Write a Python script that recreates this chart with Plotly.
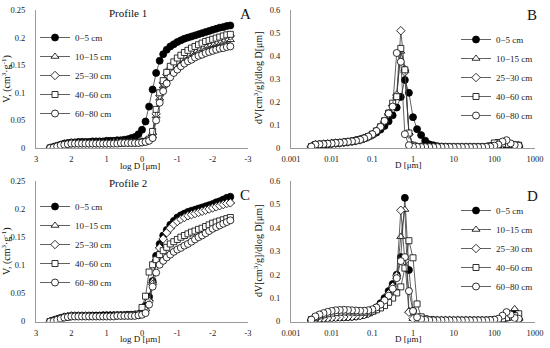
import plotly.graph_objects as go

# ---------------- data ----------------
log_d = [2.6, 2.5, 2.4, 2.3, 2.2, 2.1, 2.0, 1.9, 1.8, 1.7,
         1.6, 1.5, 1.4, 1.3, 1.2, 1.1, 1.0, 0.9, 0.8, 0.7,
         0.6, 0.5, 0.4, 0.3, 0.2, 0.1, 0.0, -0.1, -0.2, -0.3,
         -0.4, -0.5, -0.6, -0.7, -0.8, -0.9, -1.0, -1.1, -1.2, -1.3,
         -1.4, -1.5, -1.6, -1.7, -1.8, -1.9, -2.0, -2.1, -2.2, -2.3,
         -2.4, -2.5]

series_names = ["0\u22125 cm", "10\u221215 cm", "25\u221230 cm", "40\u221260 cm", "60\u221280 cm"]

# Profile 1 cumulative volume (panel A)
cum_p1_0_5 = [0.000, 0.002, 0.004, 0.006, 0.008, 0.009, 0.010, 0.010, 0.011, 0.011,
              0.011, 0.011, 0.012, 0.012, 0.012, 0.012, 0.013, 0.013, 0.013, 0.014,
              0.014, 0.015, 0.016, 0.018, 0.020, 0.025, 0.033, 0.048, 0.075, 0.106,
              0.136, 0.158, 0.170, 0.178, 0.184, 0.188, 0.192, 0.195, 0.198, 0.200,
              0.202, 0.204, 0.206, 0.208, 0.210, 0.212, 0.214, 0.216, 0.218, 0.219,
              0.221, 0.222]
cum_p1_10_15 = [0.000, 0.001, 0.003, 0.005, 0.007, 0.008, 0.008, 0.009, 0.009, 0.009,
                0.009, 0.009, 0.009, 0.009, 0.009, 0.009, 0.009, 0.009, 0.009, 0.009,
                0.010, 0.010, 0.010, 0.010, 0.010, 0.010, 0.011, 0.012, 0.015, 0.022,
                0.058, 0.090, 0.112, 0.127, 0.138, 0.146, 0.153, 0.158, 0.163, 0.167,
                0.171, 0.174, 0.177, 0.180, 0.183, 0.185, 0.187, 0.189, 0.191, 0.193,
                0.195, 0.196]
cum_p1_25_30 = [0.000, 0.001, 0.003, 0.005, 0.007, 0.008, 0.009, 0.009, 0.009, 0.009,
                0.009, 0.009, 0.009, 0.009, 0.009, 0.009, 0.009, 0.009, 0.010, 0.010,
                0.010, 0.010, 0.010, 0.010, 0.010, 0.010, 0.011, 0.012, 0.016, 0.025,
                0.062, 0.095, 0.118, 0.133, 0.144, 0.152, 0.159, 0.164, 0.169, 0.173,
                0.177, 0.180, 0.183, 0.186, 0.189, 0.191, 0.193, 0.195, 0.197, 0.199,
                0.201, 0.203]
cum_p1_40_60 = [0.000, 0.001, 0.003, 0.005, 0.007, 0.008, 0.008, 0.009, 0.009, 0.009,
                0.009, 0.009, 0.009, 0.009, 0.009, 0.009, 0.009, 0.009, 0.009, 0.009,
                0.009, 0.010, 0.010, 0.010, 0.010, 0.010, 0.011, 0.012, 0.016, 0.030,
                0.070, 0.100, 0.122, 0.137, 0.148, 0.156, 0.163, 0.168, 0.173, 0.177,
                0.181, 0.184, 0.187, 0.190, 0.193, 0.195, 0.197, 0.199, 0.201, 0.203,
                0.205, 0.206]
cum_p1_60_80 = [0.000, 0.001, 0.003, 0.005, 0.006, 0.007, 0.008, 0.008, 0.008, 0.008,
                0.008, 0.008, 0.008, 0.008, 0.008, 0.008, 0.008, 0.008, 0.008, 0.008,
                0.009, 0.009, 0.009, 0.009, 0.009, 0.009, 0.010, 0.011, 0.013, 0.018,
                0.050, 0.082, 0.103, 0.117, 0.128, 0.136, 0.142, 0.148, 0.153, 0.157,
                0.160, 0.164, 0.167, 0.169, 0.172, 0.174, 0.176, 0.178, 0.180, 0.181,
                0.183, 0.184]

# Profile 2 cumulative volume (panel C)
cum_p2_0_5 = [0.000, 0.002, 0.004, 0.006, 0.008, 0.009, 0.010, 0.010, 0.010, 0.010,
              0.010, 0.010, 0.010, 0.010, 0.010, 0.011, 0.011, 0.011, 0.011, 0.011,
              0.011, 0.011, 0.012, 0.012, 0.012, 0.013, 0.017, 0.028, 0.044, 0.072,
              0.117, 0.138, 0.153, 0.163, 0.172, 0.179, 0.185, 0.189, 0.192, 0.195,
              0.197, 0.199, 0.201, 0.203, 0.205, 0.207, 0.209, 0.212, 0.214, 0.217,
              0.220, 0.222]
cum_p2_10_15 = [0.000, 0.002, 0.004, 0.006, 0.008, 0.009, 0.010, 0.010, 0.010, 0.010,
                0.010, 0.010, 0.010, 0.010, 0.010, 0.010, 0.011, 0.011, 0.011, 0.011,
                0.011, 0.011, 0.011, 0.012, 0.012, 0.012, 0.015, 0.022, 0.040, 0.072,
                0.112, 0.134, 0.149, 0.160, 0.168, 0.175, 0.180, 0.184, 0.187, 0.190,
                0.192, 0.194, 0.196, 0.198, 0.200, 0.202, 0.204, 0.206, 0.208, 0.210,
                0.212, 0.213]
cum_p2_25_30 = [0.000, 0.002, 0.004, 0.006, 0.008, 0.009, 0.010, 0.010, 0.010, 0.010,
                0.010, 0.010, 0.010, 0.010, 0.010, 0.010, 0.010, 0.010, 0.011, 0.011,
                0.011, 0.011, 0.011, 0.011, 0.012, 0.012, 0.014, 0.020, 0.036, 0.066,
                0.107, 0.131, 0.147, 0.158, 0.166, 0.173, 0.178, 0.182, 0.185, 0.188,
                0.190, 0.192, 0.194, 0.196, 0.198, 0.200, 0.202, 0.204, 0.206, 0.208,
                0.210, 0.211]
cum_p2_40_60 = [0.000, 0.002, 0.004, 0.006, 0.007, 0.008, 0.009, 0.009, 0.009, 0.009,
                0.009, 0.009, 0.010, 0.010, 0.010, 0.010, 0.010, 0.010, 0.010, 0.011,
                0.011, 0.011, 0.011, 0.012, 0.012, 0.013, 0.025, 0.045, 0.088, 0.101,
                0.110, 0.119, 0.126, 0.132, 0.138, 0.142, 0.146, 0.150, 0.153, 0.156,
                0.159, 0.161, 0.164, 0.166, 0.169, 0.172, 0.175, 0.177, 0.179, 0.181,
                0.183, 0.185]
cum_p2_60_80 = [0.000, 0.001, 0.003, 0.005, 0.007, 0.008, 0.009, 0.009, 0.009, 0.009,
                0.009, 0.009, 0.009, 0.009, 0.009, 0.009, 0.009, 0.009, 0.009, 0.010,
                0.010, 0.010, 0.010, 0.010, 0.010, 0.011, 0.012, 0.015, 0.030, 0.062,
                0.087, 0.101, 0.108, 0.114, 0.119, 0.124, 0.128, 0.131, 0.135, 0.138,
                0.142, 0.146, 0.150, 0.153, 0.157, 0.161, 0.165, 0.168, 0.171, 0.174,
                0.177, 0.180]

# Profile 1 dV/dlogD (panel B)
dist_p1_0_5 = [0.006, 0.008, 0.010, 0.012, 0.010, 0.008, 0.006, 0.004, 0.003, 0.003,
               0.003, 0.003, 0.003, 0.003, 0.003, 0.003, 0.003, 0.004, 0.005, 0.006,
               0.008, 0.012, 0.016, 0.032, 0.056, 0.082, 0.134, 0.240, 0.296, 0.222,
               0.176, 0.142, 0.116, 0.096, 0.080, 0.067, 0.057, 0.049, 0.043, 0.038,
               0.034, 0.030, 0.027, 0.024, 0.022, 0.020, 0.018, 0.016, 0.014, 0.012,
               0.010, 0.004]
dist_p1_10_15 = [0.010, 0.013, 0.016, 0.020, 0.018, 0.012, 0.008, 0.005, 0.004, 0.004,
                 0.004, 0.004, 0.004, 0.004, 0.004, 0.004, 0.004, 0.004, 0.004, 0.004,
                 0.004, 0.004, 0.004, 0.004, 0.005, 0.005, 0.012, 0.065, 0.345, 0.420,
                 0.225, 0.190, 0.150, 0.116, 0.090, 0.072, 0.058, 0.048, 0.040, 0.035,
                 0.031, 0.028, 0.026, 0.024, 0.022, 0.021, 0.020, 0.018, 0.017, 0.016,
                 0.014, 0.005]
dist_p1_25_30 = [0.010, 0.012, 0.015, 0.018, 0.016, 0.012, 0.008, 0.005, 0.004, 0.004,
                 0.004, 0.004, 0.004, 0.004, 0.004, 0.004, 0.004, 0.004, 0.004, 0.004,
                 0.004, 0.004, 0.004, 0.004, 0.005, 0.005, 0.010, 0.060, 0.330, 0.510,
                 0.230, 0.185, 0.148, 0.115, 0.090, 0.072, 0.058, 0.048, 0.041, 0.035,
                 0.031, 0.028, 0.026, 0.024, 0.022, 0.021, 0.020, 0.018, 0.017, 0.016,
                 0.015, 0.006]
dist_p1_40_60 = [0.012, 0.014, 0.015, 0.016, 0.018, 0.024, 0.022, 0.010, 0.006, 0.005,
                 0.004, 0.004, 0.004, 0.004, 0.004, 0.004, 0.004, 0.004, 0.004, 0.004,
                 0.004, 0.004, 0.004, 0.004, 0.005, 0.006, 0.012, 0.065, 0.340, 0.433,
                 0.223, 0.195, 0.152, 0.118, 0.092, 0.074, 0.060, 0.050, 0.042, 0.036,
                 0.032, 0.029, 0.027, 0.025, 0.023, 0.022, 0.020, 0.019, 0.017, 0.016,
                 0.015, 0.006]
dist_p1_60_80 = [0.010, 0.013, 0.020, 0.034, 0.028, 0.015, 0.010, 0.006, 0.005, 0.004,
                 0.004, 0.004, 0.004, 0.004, 0.004, 0.004, 0.004, 0.004, 0.004, 0.004,
                 0.004, 0.004, 0.004, 0.004, 0.004, 0.005, 0.005, 0.012, 0.060, 0.375,
                 0.413, 0.180, 0.150, 0.118, 0.092, 0.074, 0.060, 0.050, 0.042, 0.036,
                 0.032, 0.029, 0.027, 0.025, 0.023, 0.022, 0.020, 0.019, 0.017, 0.016,
                 0.015, 0.006]

# Profile 2 dV/dlogD (panel D)
dist_p2_0_5 = [0.010, 0.044, 0.028, 0.015, 0.009, 0.007, 0.006, 0.005, 0.004, 0.004,
               0.004, 0.004, 0.004, 0.004, 0.004, 0.004, 0.004, 0.004, 0.004, 0.004,
               0.004, 0.005, 0.005, 0.006, 0.009, 0.015, 0.045, 0.220, 0.528, 0.275,
               0.200, 0.160, 0.130, 0.100, 0.078, 0.060, 0.046, 0.036, 0.029, 0.025,
               0.022, 0.020, 0.019, 0.018, 0.017, 0.016, 0.015, 0.014, 0.013, 0.012,
               0.010, 0.006]
dist_p2_10_15 = [0.012, 0.054, 0.030, 0.016, 0.010, 0.007, 0.006, 0.005, 0.004, 0.004,
                 0.004, 0.004, 0.004, 0.004, 0.004, 0.004, 0.004, 0.004, 0.004, 0.004,
                 0.004, 0.004, 0.005, 0.005, 0.006, 0.008, 0.012, 0.045, 0.478, 0.362,
                 0.190, 0.145, 0.115, 0.088, 0.068, 0.052, 0.040, 0.032, 0.026, 0.023,
                 0.021, 0.019, 0.018, 0.017, 0.016, 0.015, 0.014, 0.013, 0.012, 0.011,
                 0.009, 0.006]
dist_p2_25_30 = [0.010, 0.020, 0.022, 0.018, 0.012, 0.008, 0.006, 0.005, 0.004, 0.004,
                 0.004, 0.004, 0.004, 0.004, 0.004, 0.004, 0.004, 0.004, 0.004, 0.004,
                 0.004, 0.004, 0.005, 0.005, 0.006, 0.008, 0.012, 0.040, 0.260, 0.475,
                 0.195, 0.150, 0.118, 0.090, 0.070, 0.055, 0.043, 0.035, 0.029, 0.025,
                 0.023, 0.021, 0.020, 0.019, 0.018, 0.017, 0.016, 0.015, 0.014, 0.012,
                 0.010, 0.006]
dist_p2_40_60 = [0.033, 0.025, 0.020, 0.016, 0.012, 0.009, 0.007, 0.006, 0.005, 0.005,
                 0.005, 0.005, 0.005, 0.005, 0.005, 0.005, 0.005, 0.005, 0.005, 0.005,
                 0.005, 0.006, 0.008, 0.012, 0.020, 0.075, 0.272, 0.345, 0.228, 0.148,
                 0.122, 0.100, 0.082, 0.068, 0.058, 0.050, 0.044, 0.041, 0.040, 0.040,
                 0.040, 0.041, 0.041, 0.041, 0.040, 0.038, 0.036, 0.033, 0.029, 0.024,
                 0.018, 0.008]
dist_p2_60_80 = [0.012, 0.015, 0.030, 0.040, 0.025, 0.012, 0.008, 0.006, 0.005, 0.005,
                 0.005, 0.005, 0.005, 0.005, 0.005, 0.005, 0.005, 0.005, 0.005, 0.005,
                 0.005, 0.005, 0.006, 0.007, 0.010, 0.018, 0.045, 0.130, 0.275, 0.258,
                 0.185, 0.140, 0.110, 0.090, 0.072, 0.060, 0.052, 0.048, 0.046, 0.046,
                 0.047, 0.048, 0.049, 0.050, 0.049, 0.048, 0.045, 0.041, 0.036, 0.030,
                 0.022, 0.008]

logd_tick_vals = [3, 2, 1, 0, -1, -2, -3]
logd_tick_text = ["3", "2", "1", "0", "-1", "-2", "-3"]
d_tick_vals = [0.001, 0.01, 0.1, 1, 10, 100, 1000]
d_tick_text = ["0.001", "0.01", "0.1", "1", "10", "100", "1000"]

# ---------------- styling ----------------
FONT = "Liberation Serif"
W, H = 550, 348
symbols = ["circle", "triangle-up", "diamond", "square", "circle"]
fills = ["black", "white", "white", "white", "white"]
sizes = [7, 7, 6.5, 6, 7]

d_um = [10 ** v for v in log_d]

panels = [
    ("x", "y", "legend", log_d,
     [cum_p1_0_5, cum_p1_10_15, cum_p1_25_30, cum_p1_40_60, cum_p1_60_80]),
    ("x2", "y2", "legend2", d_um,
     [dist_p1_0_5, dist_p1_10_15, dist_p1_25_30, dist_p1_40_60, dist_p1_60_80]),
    ("x3", "y3", "legend3", log_d,
     [cum_p2_0_5, cum_p2_10_15, cum_p2_25_30, cum_p2_40_60, cum_p2_60_80]),
    ("x4", "y4", "legend4", d_um,
     [dist_p2_0_5, dist_p2_10_15, dist_p2_25_30, dist_p2_40_60, dist_p2_60_80]),
]

fig = go.Figure()
for xa, ya, lg, xs, series in panels:
    for k, ys in enumerate(series):
        fig.add_trace(go.Scatter(
            x=xs, y=ys, xaxis=xa, yaxis=ya, legend=lg,
            name=series_names[k], mode="lines+markers",
            line=dict(color="#3a3a3a", width=0.8),
            marker=dict(symbol=symbols[k], size=sizes[k], color=fills[k],
                        line=dict(color="black", width=0.8)),
        ))

def px_x(p):
    return p / W

def px_y(p):
    return 1 - p / H

tick_font = dict(family=FONT, size=8.5, color="#222")
axis_common = dict(showgrid=False, zeroline=False, showline=True,
                   linecolor="#9a9a9a", linewidth=1, ticks="",
                   tickfont=tick_font, fixedrange=True, automargin=False)

ylab_a = "V, (cm<sup>3</sup>\u00b7g<sup>-1</sup>)"
ylab_b = "dV[cm<sup>3</sup>/g]/dlog D[\u03bcm]"
ytitle_font = dict(family=FONT, size=10, color="#111")

dom_left = [px_x(36), px_x(248)]
dom_right = [px_x(291), px_x(535)]
dom_top = [px_y(148), px_y(10)]
dom_bot = [px_y(321.5), px_y(181)]

layout = dict(
    template="none",
    width=W, height=H, margin=dict(l=0, r=0, t=0, b=0, autoexpand=False),
    paper_bgcolor="white", plot_bgcolor="white",
    font=dict(family=FONT, color="#222"),
    showlegend=True,
    xaxis=dict(domain=dom_left, anchor="y", range=[3, -3],
               tickvals=logd_tick_vals, ticktext=logd_tick_text,
               ticklabelstandoff=3, **axis_common),
    yaxis=dict(domain=dom_top, anchor="x", range=[0, 0.25], dtick=0.05,
               ticklabelstandoff=8,
               title=dict(text=ylab_a, font=ytitle_font, standoff=2),
               **axis_common),
    xaxis2=dict(domain=dom_right, anchor="y2", type="log", range=[-3, 3],
                tickvals=d_tick_vals, ticktext=d_tick_text,
                ticklabelstandoff=3, **axis_common),
    yaxis2=dict(domain=dom_top, anchor="x2", range=[0, 0.6], dtick=0.1,
                ticklabelstandoff=8, **axis_common),
    xaxis3=dict(domain=dom_left, anchor="y3", range=[3, -3],
                tickvals=logd_tick_vals, ticktext=logd_tick_text,
                ticklabelstandoff=3, **axis_common),
    yaxis3=dict(domain=dom_bot, anchor="x3", range=[0, 0.25], dtick=0.05,
                ticklabelstandoff=8,
                title=dict(text=ylab_a, font=ytitle_font, standoff=2),
                **axis_common),
    xaxis4=dict(domain=dom_right, anchor="y4", type="log", range=[-3, 3],
                tickvals=d_tick_vals, ticktext=d_tick_text,
                ticklabelstandoff=3, **axis_common),
    yaxis4=dict(domain=dom_bot, anchor="x4", range=[0, 0.6], dtick=0.1,
                ticklabelstandoff=8, **axis_common),
)

leg_common = dict(xanchor="left", yanchor="top", bgcolor="rgba(0,0,0,0)",
                  font=dict(family=FONT, size=9, color="#222"),
                  itemwidth=30, borderwidth=0)
layout["legend"] = dict(x=px_x(35), y=px_y(23), **leg_common)
layout["legend2"] = dict(x=px_x(456), y=px_y(25), **leg_common)
layout["legend3"] = dict(x=px_x(35), y=px_y(192), **leg_common)
layout["legend4"] = dict(x=px_x(456), y=px_y(196), **leg_common)

fig.update_layout(**layout)

ann = []
def text(x, y, s, size, angle=0):
    ann.append(dict(x=px_x(x), y=px_y(y), xref="paper", yref="paper",
                    text=s, showarrow=False, textangle=angle,
                    xanchor="center", yanchor="middle",
                    font=dict(family=FONT, size=size, color="#111")))

text(128, 13, "Profile 1", 11)
text(128, 183, "Profile 2", 11)
text(245, 14, "A", 15)
text(532, 15, "B", 15)
text(245, 195, "C", 15)
text(532, 196, "D", 15)
text(140, 166, "log D [\u03bcm]", 9)
text(140, 339, "log D [\u03bcm]", 9)
text(408, 165, "D [\u03bcm]", 9)
text(408, 339, "D [\u03bcm]", 9)
text(258, 78, ylab_b, 10, -90)
text(258, 251, ylab_b, 10, -90)
fig.update_layout(annotations=ann)

fig.write_html(
    "out.html",
    config={"displayModeBar": False},
    post_script="document.body.style.margin='0';document.body.style.padding='0';",
)
